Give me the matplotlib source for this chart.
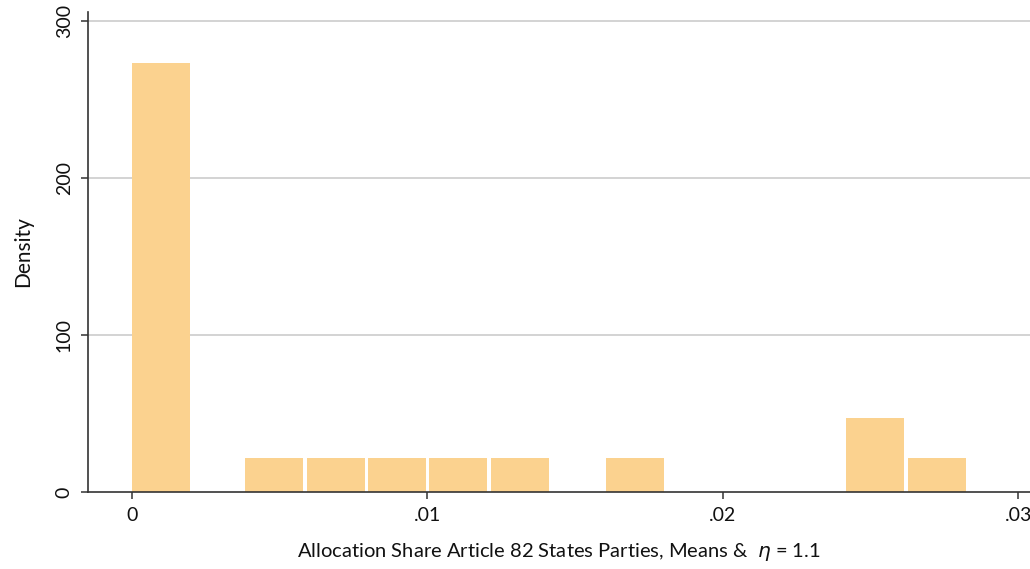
import matplotlib.pyplot as plt

# histogram bins (left edge, density)
bin_left = [-0.00005, 0.00377, 0.00587, 0.00794, 0.01000, 0.01210, 0.01599, 0.02412, 0.02621]
density = [273.2, 21.7, 21.7, 21.7, 21.7, 21.7, 21.7, 47.1, 21.7]
bin_width = 0.00207

x_ticks = [0, 0.01, 0.02, 0.03]
x_tick_labels = ["0", ".01", ".02", ".03"]
y_ticks = [0, 100, 200, 300]

plt.rcParams['font.family'] = ['Lato', 'DejaVu Sans']

fig = plt.figure(figsize=(10.3, 5.69), dpi=100)
ax = fig.add_axes([88 / 1030, 1 - 492 / 569, 1 - 88 / 1030, 480 / 569])

for y in y_ticks[1:]:
    ax.axhline(y, color='#c8c8c8', lw=1.1, zorder=0)

# white gap between bars, like the outline in the original
gap = 0.00011
ax.bar([b + gap / 2 for b in bin_left], density, width=bin_width - gap, align='edge',
       color='#fbd28f', linewidth=0, zorder=2)

ax.set_xlim(-0.00149, 0.0304)
ax.set_ylim(0, 305.7)
ax.set_xticks(x_ticks)
ax.set_xticklabels(x_tick_labels)
ax.set_yticks(y_ticks)
ax.set_yticklabels([str(v) for v in y_ticks], rotation=90, va='center')

for s in ['top', 'right']:
    ax.spines[s].set_visible(False)
for s in ['left', 'bottom']:
    ax.spines[s].set_color('#333333')
    ax.spines[s].set_linewidth(1.2)
    ax.spines[s].set_zorder(3)

ax.tick_params(axis='both', direction='out', length=5, width=1.1, color='#333333',
               labelsize=14, labelcolor='#111111', pad=6)

ax.set_xlabel(r"Allocation Share Article 82 States Parties, Means &  $\eta$ = 1.1",
              fontsize=14.5, labelpad=12, color='#111111')
ax.set_ylabel("Density", fontsize=15, labelpad=16, color='#111111')

fig.savefig("out.png", dpi=100)
